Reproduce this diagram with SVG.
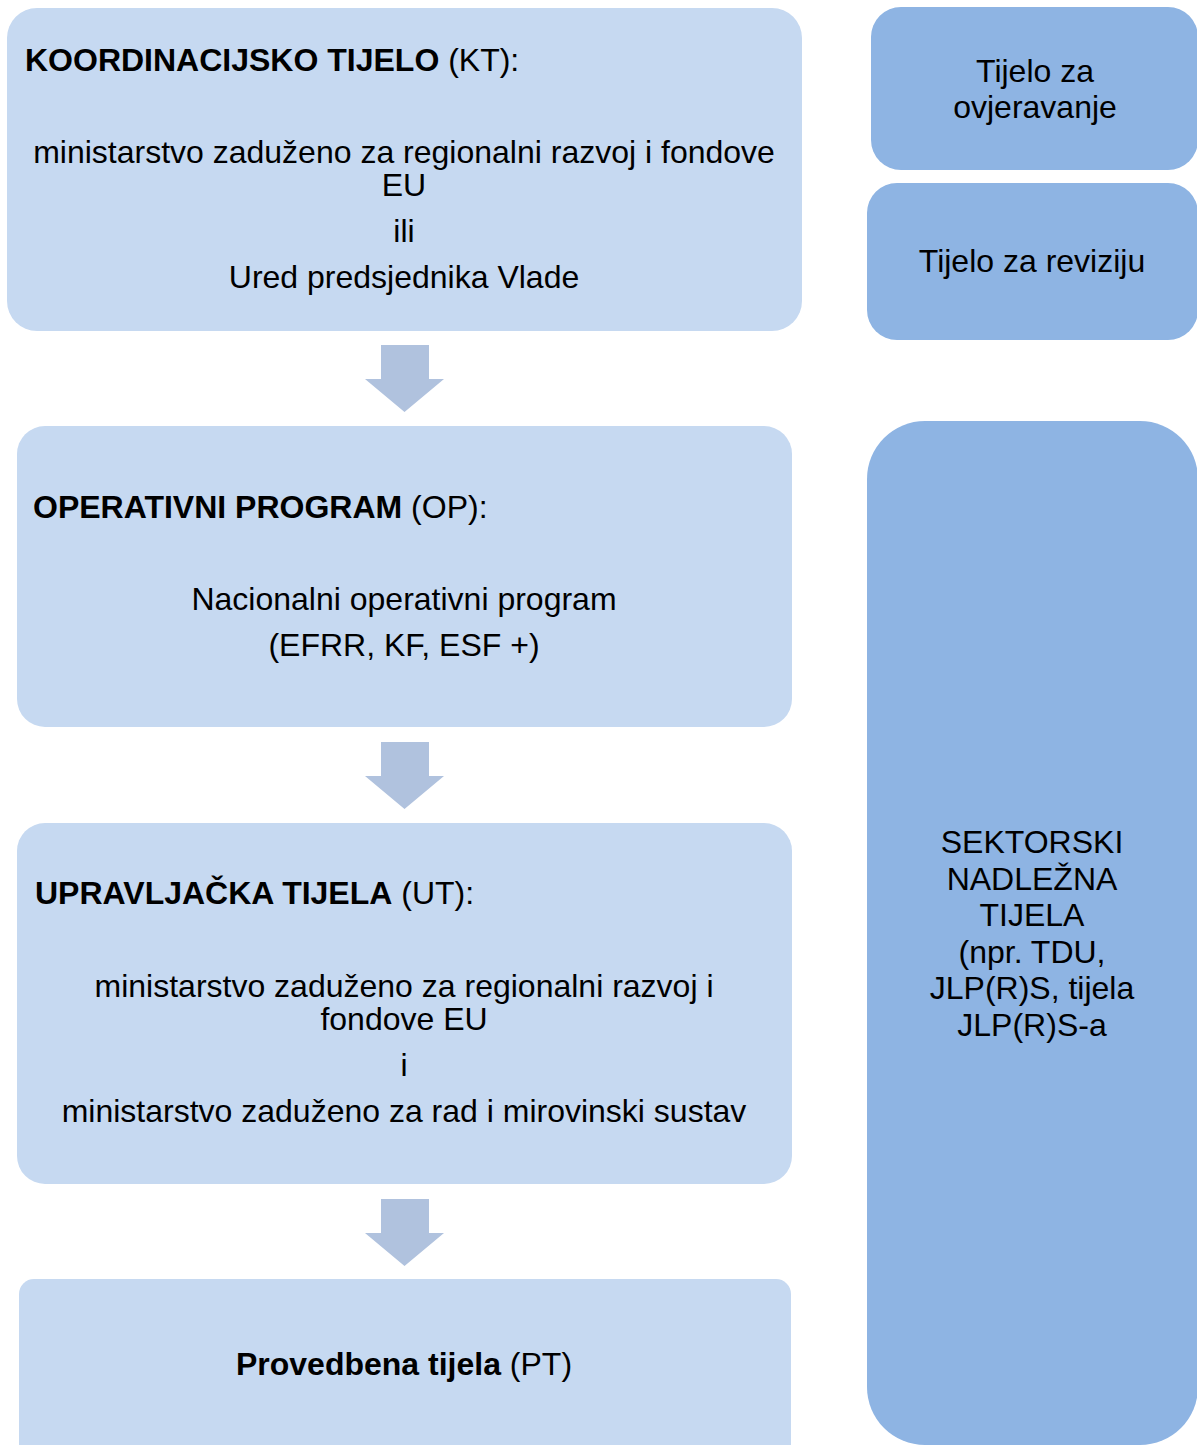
<svg xmlns="http://www.w3.org/2000/svg" width="1197" height="1445" viewBox="0 0 1197 1445">
<style>
.lb{fill:#C6D9F1}
.db{fill:#8EB4E3}
.ar{fill:#B0C2DE}
text{font-family:"Liberation Sans",Arial,sans-serif;font-size:32px;fill:#000}
.c{text-anchor:middle}
.b{font-weight:bold}
</style>
<rect width="1197" height="1445" fill="#fff"/>
<g id="connectors">
<path class="ar" d="M381,345 H429 V379 H444 L404.5,412 L365,379 H381 Z"/>
<path class="ar" d="M381,742 H429 V776 H444 L404.5,809 L365,776 H381 Z"/>
<path class="ar" d="M381,1199 H429 V1233 H444 L404.5,1266 L365,1233 H381 Z"/>
</g>
<g id="kt">
<rect class="lb" x="7" y="8" width="795" height="323" rx="30"/>
<text x="25" y="71"><tspan class="b">KOORDINACIJSKO TIJELO</tspan> (KT):</text>
<text class="c" x="404" y="163">ministarstvo zaduženo za regionalni razvoj i fondove</text>
<text class="c" x="404" y="196">EU</text>
<text class="c" x="404" y="242">ili</text>
<text class="c" x="404" y="288">Ured predsjednika Vlade</text>
</g>
<g id="op">
<rect class="lb" x="17" y="426" width="775" height="301" rx="28"/>
<text x="33" y="518"><tspan class="b">OPERATIVNI PROGRAM</tspan> (OP):</text>
<text class="c" x="404" y="610">Nacionalni operativni program</text>
<text class="c" x="404" y="656">(EFRR, KF, ESF +)</text>
</g>
<g id="ut">
<rect class="lb" x="17" y="823" width="775" height="361" rx="28"/>
<text x="35" y="904"><tspan class="b">UPRAVLJAČKA TIJELA</tspan> (UT):</text>
<text class="c" x="404" y="997">ministarstvo zaduženo za regionalni razvoj i</text>
<text class="c" x="404" y="1030">fondove EU</text>
<text class="c" x="404" y="1076">i</text>
<text class="c" x="404" y="1122">ministarstvo zaduženo za rad i mirovinski sustav</text>
</g>
<g id="pt">
<rect class="lb" x="19" y="1279" width="772" height="200" rx="15"/>
<text class="c" x="404" y="1375"><tspan class="b">Provedbena tijela</tspan> (PT)</text>
</g>
<g id="ovjeravanje">
<rect class="db" x="871" y="7" width="327" height="163" rx="30"/>
<text class="c" x="1035" y="82">Tijelo za</text>
<text class="c" x="1035" y="118">ovjeravanje</text>
</g>
<g id="revizija">
<rect class="db" x="867" y="183" width="331" height="157" rx="30"/>
<text class="c" x="1032" y="272">Tijelo za reviziju</text>
</g>
<g id="sektorski">
<rect class="db" x="867" y="421" width="331" height="1024" rx="58"/>
<text class="c" x="1032" y="853">SEKTORSKI</text>
<text class="c" x="1032" y="890">NADLEŽNA</text>
<text class="c" x="1032" y="926">TIJELA</text>
<text class="c" x="1032" y="963">(npr. TDU,</text>
<text class="c" x="1032" y="999">JLP(R)S, tijela</text>
<text class="c" x="1032" y="1036">JLP(R)S-a</text>
</g>
</svg>
